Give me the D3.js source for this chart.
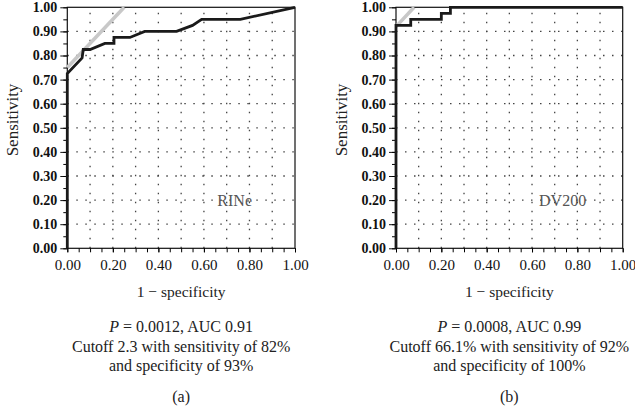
<!DOCTYPE html>
<html><head><meta charset="utf-8">
<script src="https://cdn.jsdelivr.net/npm/d3@7"></script>
<style>body{margin:0;background:#fff;} text{font-family:"Liberation Serif","Times New Roman",serif;}</style>
</head><body>
<svg id="c" width="635" height="419"></svg>
<script>
// ---- data ----
const tickValues = [0,0.1,0.2,0.3,0.4,0.5,0.6,0.7,0.8,0.9,1.0];
const tickLabels = ["0.00","0.10","0.20","0.30","0.40","0.50","0.60","0.70","0.80","0.90","1.00"];
const xTickValues = [0,0.2,0.4,0.6,0.8,1.0];
const xTickLabels = ["0.00","0.20","0.40","0.60","0.80","1.00"];
const minorTicks = d3.range(0,1.0001,0.05);

const rineFPR = [0,0,0.065,0.07,0.1,0.165,0.205,0.205,0.275,0.34,0.48,0.55,0.59,0.76,1.0];
const rineTPR = [0,0.725,0.79,0.825,0.825,0.85,0.85,0.875,0.875,0.9,0.9,0.925,0.95,0.95,1.0];
const dvFPR = [0,0,0.065,0.065,0.2,0.2,0.24,0.24,1.0];
const dvTPR = [0,0.925,0.925,0.95,0.95,0.975,0.975,1.0,1.0];
const rineRefX = [0,0.25], rineRefY = [0.75,1.0];
const dvRefX = [0,0.08], dvRefY = [0.92,1.0];

const panels = [
  {left:67.3, right:295, fpr:rineFPR, tpr:rineTPR, refX:rineRefX, refY:rineRefY, name:"RINe",
   p:"0.0012", auc:"0.91", line2:"Cutoff 2.3 with sensitivity of 82%", line3:"and specificity of 93%", tag:"(a)"},
  {left:396, right:622.7, fpr:dvFPR, tpr:dvTPR, refX:dvRefX, refY:dvRefY, name:"DV200",
   p:"0.0008", auc:"0.99", line2:"Cutoff 66.1% with sensitivity of 92%", line3:"and specificity of 100%", tag:"(b)"}
];
const plotTop = 7.3, plotBottom = 248.3;
const svg = d3.select("#c");

panels.forEach(P => {
  const x = d3.scaleLinear().domain([0,1]).range([P.left, P.right]);
  const y = d3.scaleLinear().domain([0,1]).range([plotBottom, plotTop]);
  const g = svg.append("g");
  const cx = (P.left + P.right)/2;

  // grid
  tickValues.filter(v => v>0 && v<1).forEach(v => {
    g.append("line").attr("x1",x(0)).attr("x2",x(1)).attr("y1",y(v)).attr("y2",y(v))
      .attr("stroke","#444").attr("stroke-width",1.3).attr("stroke-dasharray","1.5,7.5");
    g.append("line").attr("y1",y(0)).attr("y2",y(1)).attr("x1",x(v)).attr("x2",x(v))
      .attr("stroke","#444").attr("stroke-width",1.3).attr("stroke-dasharray","1.5,7.5");
  });

  // frame
  g.append("rect").attr("x",x(0)).attr("y",y(1)).attr("width",x(1)-x(0)).attr("height",y(0)-y(1))
    .attr("fill","none").attr("stroke","#111").attr("stroke-width",1.2);

  // y axis
  const yAx = g.append("g").attr("transform",`translate(${x(0)},0)`)
    .call(d3.axisLeft(y).tickValues(tickValues).tickFormat((d,i)=>tickLabels[i]).tickSize(7).tickPadding(3));
  yAx.select(".domain").remove();
  yAx.selectAll("text").attr("font-size",14).attr("font-weight","bold").attr("fill","#111")
    .style("font-family","'Liberation Serif',serif");
  yAx.selectAll("line").attr("stroke","#111");
  g.append("g").attr("transform",`translate(${x(0)},0)`)
    .call(d3.axisLeft(y).tickValues(minorTicks).tickFormat("").tickSize(4))
    .select(".domain").remove();

  // x axis
  const xAx = g.append("g").attr("transform",`translate(0,${y(0)})`)
    .call(d3.axisBottom(x).tickValues(xTickValues).tickFormat((d,i)=>xTickLabels[i]).tickSize(4).tickPadding(7));
  xAx.select(".domain").remove();
  xAx.selectAll("text").attr("font-size",15).attr("fill","#111")
    .style("font-family","'Liberation Serif',serif");
  g.append("g").attr("transform",`translate(0,${y(0)})`)
    .call(d3.axisBottom(x).tickValues(minorTicks).tickFormat("").tickSize(4))
    .select(".domain").remove();

  // reference line
  g.append("line").attr("x1",x(P.refX[0])).attr("y1",y(P.refY[0])).attr("x2",x(P.refX[1])).attr("y2",y(P.refY[1]))
    .attr("stroke","#c8c8c8").attr("stroke-width",3.5);

  // ROC curve
  const pts = P.fpr.map((f,i)=>[f,P.tpr[i]]);
  g.append("path").datum(pts)
    .attr("d", d3.line().x(d=>x(d[0])).y(d=>y(d[1])))
    .attr("fill","none").attr("stroke","#1a1a1a").attr("stroke-width",2.8).attr("stroke-linejoin","miter");

  // label
  g.append("text").attr("x",x(0.735)).attr("y",y(0.2)).attr("dy","0.35em").attr("text-anchor","middle")
    .attr("font-size",16).attr("fill","#555").text(P.name);

  // y title
  g.append("text").attr("transform",`translate(${P.left-55},120) rotate(-90)`).attr("text-anchor","middle")
    .attr("dy","0.35em").attr("font-size",17).attr("fill","#222").text("Sensitivity");

  // x title
  g.append("text").attr("x",cx).attr("y",292).attr("dy","0.35em").attr("text-anchor","middle")
    .attr("font-size",15.5).attr("fill","#222").text("1 \u2212 specificity");

  const t1 = g.append("text").attr("x",cx).attr("y",326).attr("dy","0.35em").attr("text-anchor","middle")
    .attr("font-size",16).attr("fill","#222");
  t1.append("tspan").attr("font-style","italic").text("P");
  t1.append("tspan").text(` = ${P.p}, AUC ${P.auc}`);
  g.append("text").attr("x",cx).attr("y",346).attr("dy","0.35em").attr("text-anchor","middle")
    .attr("font-size",16).attr("fill","#222").text(P.line2);
  g.append("text").attr("x",cx).attr("y",365).attr("dy","0.35em").attr("text-anchor","middle")
    .attr("font-size",16).attr("fill","#222").text(P.line3);
  g.append("text").attr("x",cx).attr("y",396).attr("dy","0.35em").attr("text-anchor","middle")
    .attr("font-size",16).attr("fill","#222").text(P.tag);
});
</script>
</body></html>
